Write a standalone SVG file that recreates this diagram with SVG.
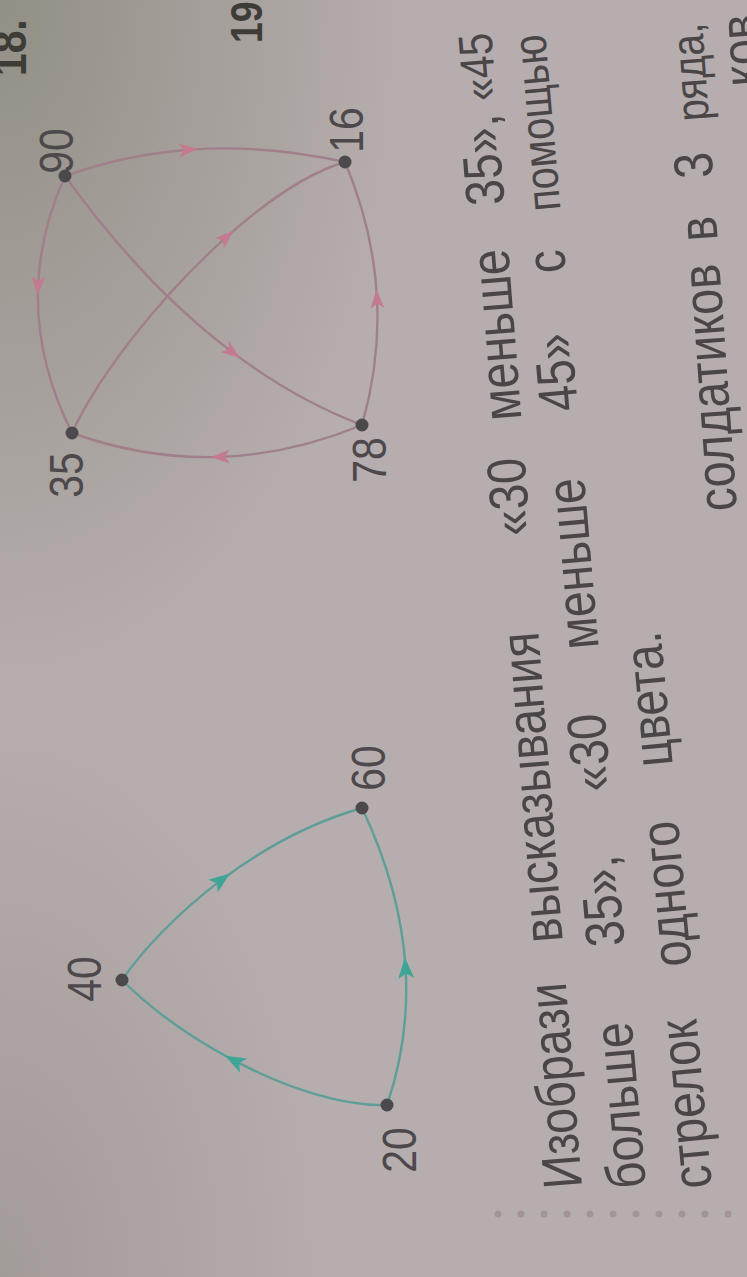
<svg xmlns="http://www.w3.org/2000/svg" width="747" height="1277" viewBox="0 0 747 1277">
<defs>
<radialGradient id="shadeTL" cx="0" cy="0" r="0.55" gradientUnits="objectBoundingBox">
<stop offset="0" stop-color="#8c8a7e" stop-opacity="0.85"/>
<stop offset="1" stop-color="#8c8a7e" stop-opacity="0"/>
</radialGradient>
<radialGradient id="shadeBL" cx="0" cy="1" r="0.45" gradientUnits="objectBoundingBox">
<stop offset="0" stop-color="#958f8a" stop-opacity="0.6"/>
<stop offset="1" stop-color="#958f8a" stop-opacity="0"/>
</radialGradient>
<marker id="ap" viewBox="-12 -8 22 16" refX="0" refY="0" markerWidth="22" markerHeight="16" markerUnits="userSpaceOnUse" orient="auto">
<path d="M9,0 L-10,-7 L-5,0 L-10,7 Z" fill="#c47a91"/>
</marker>
<marker id="at" viewBox="-12 -9 24 18" refX="0" refY="0" markerWidth="24" markerHeight="18" markerUnits="userSpaceOnUse" orient="auto">
<path d="M10,0 L-11,-8 L-6,0 L-11,8 Z" fill="#3ea597"/>
</marker>
</defs>
<style>
.pink{fill:none;stroke:#a07f8b;stroke-width:2.4;marker-mid:url(#ap)}
.teal{fill:none;stroke:#5f9d98;stroke-width:2.4;marker-mid:url(#at)}
.dot{fill:#4c494c}
.lbl{font-family:"Liberation Sans",Arial,sans-serif;font-size:48px;fill:#4d484b;text-anchor:middle}
.txt{font-family:"Liberation Sans",Arial,sans-serif;font-size:55px;fill:#4a4547}
.pg{font-family:"Liberation Sans",Arial,sans-serif;fill:#3e3c37;font-weight:bold}
.perf{fill:#a39597}
</style>
<rect x="0" y="0" width="747" height="1277" fill="#b6aeae"/>
<rect x="0" y="0" width="747" height="1277" fill="url(#shadeTL)"/>
<rect x="0" y="0" width="747" height="1277" fill="url(#shadeBL)"/>

<g id="connectors">
<path class="pink" d="M65,176 Q124.8,154.4 188.8,149.7 Q264,144.2 345,162"/>
<path class="pink" d="M65,176 Q40.3,231 38.1,286.3 Q35.2,359.5 72,433"/>
<path class="pink" d="M362,425 Q291,454.4 219.9,456.9 Q146,459.5 72,433"/>
<path class="pink" d="M362,425 Q380.2,361.6 377,298.5 Q373.6,230.1 345,162"/>
<path class="pink" d="M65,176 C111.5,240.5 167.6,303.4 232.6,352.4 C272.4,382.5 315.6,407.3 362,425"/>
<path class="pink" d="M72,433 C98.7,375.3 160.7,295.7 226.6,236.9 C267,200.9 308.9,172.6 345,162"/>
<path class="teal" d="M122,980 C142.1,950.9 176.9,913.3 221.8,879.6 C261.6,849.8 309.4,823 362,808"/>
<path class="teal" d="M387,1105 C343.9,1106.7 287.3,1088.6 233.9,1060.4 C191.9,1038.3 151.9,1009.9 122,980"/>
<path class="teal" d="M387,1105 Q410,1037.8 405.5,967.4 Q400.6,889.6 362,808"/>
</g>

<g id="node-90"><circle class="dot" cx="65" cy="176" r="6.5"/><text class="lbl" transform="translate(57,151) rotate(-90) scale(0.85,1)" x="0" y="16" font-size="44">90</text></g>
<g id="node-16"><circle class="dot" cx="345" cy="162" r="6.5"/><text class="lbl" transform="translate(347,130) rotate(-90) scale(0.85,1)" x="0" y="16" font-size="44">16</text></g>
<g id="node-35"><circle class="dot" cx="72" cy="433" r="6.5"/><text class="lbl" transform="translate(65,475) rotate(-90) scale(0.85,1)" x="0" y="18">35</text></g>
<g id="node-78"><circle class="dot" cx="362" cy="425" r="6.5"/><text class="lbl" transform="translate(368,460) rotate(-90) scale(0.85,1)" x="0" y="18">78</text></g>
<g id="node-60"><circle class="dot" cx="362" cy="808" r="6.5"/><text class="lbl" transform="translate(368,768) rotate(-90) scale(0.85,1)" x="0" y="17">60</text></g>
<g id="node-40"><circle class="dot" cx="122" cy="980" r="6.5"/><text class="lbl" transform="translate(83,979) rotate(-90) scale(0.85,1)" x="0" y="18">40</text></g>
<g id="node-20"><circle class="dot" cx="387" cy="1105" r="6.5"/><text class="lbl" transform="translate(398,1150) rotate(-90) scale(0.85,1)" x="0" y="18">20</text></g>

<g id="text">
<text class="txt" transform="translate(582,1187) rotate(-94.5) scale(0.85,1)"><tspan x="0">Изобрази</tspan><tspan x="290">высказывания</tspan><tspan x="770.1">«30</tspan><tspan x="906">меньше</tspan><tspan x="1160">35»,</tspan><tspan x="1283" font-size="48">«45</tspan></text>
<text class="txt" transform="translate(646,1187) rotate(-95) scale(0.85,1)"><tspan x="0">больше</tspan><tspan x="285.9">35»,</tspan><tspan x="468.9">«30</tspan><tspan x="636.7">меньше</tspan><tspan x="917.8">45»</tspan><tspan x="1080.8">с</tspan><tspan x="1154" font-size="47">помощью</tspan></text>
<text class="txt" transform="translate(712,1187) rotate(-95.3) scale(0.85,1)"><tspan x="0">стрелок</tspan><tspan x="262.2">одного</tspan><tspan x="498.5">цвета.</tspan></text>
<text class="txt" transform="translate(737,510) rotate(-94.1) scale(0.85,1)" font-size="52"><tspan x="0">солдатиков</tspan><tspan x="318.5">в</tspan><tspan x="392.8">3</tspan><tspan x="460" font-size="46">ряда,</tspan></text>
<text class="txt" transform="translate(762,85) rotate(-94) scale(0.85,1)" font-size="44">ков</text>
<text class="pg" transform="translate(26,76) rotate(-90) scale(0.85,1)" font-size="48">18.</text>
<text class="pg" transform="translate(262,43) rotate(-90) scale(0.85,1)" font-size="44" fill="#55524d">19</text>
</g>

<g id="perforation">
<circle class="perf" cx="498" cy="1214" r="3.5"/><circle class="perf" cx="521" cy="1214" r="3.5"/><circle class="perf" cx="544" cy="1214" r="3.5"/><circle class="perf" cx="567" cy="1214" r="3.5"/><circle class="perf" cx="590" cy="1214" r="3.5"/><circle class="perf" cx="613" cy="1214" r="3.5"/><circle class="perf" cx="636" cy="1214" r="3.5"/><circle class="perf" cx="659" cy="1214" r="3.5"/><circle class="perf" cx="682" cy="1214" r="3.5"/><circle class="perf" cx="705" cy="1214" r="3.5"/><circle class="perf" cx="728" cy="1214" r="3.5"/>
</g>
</svg>
